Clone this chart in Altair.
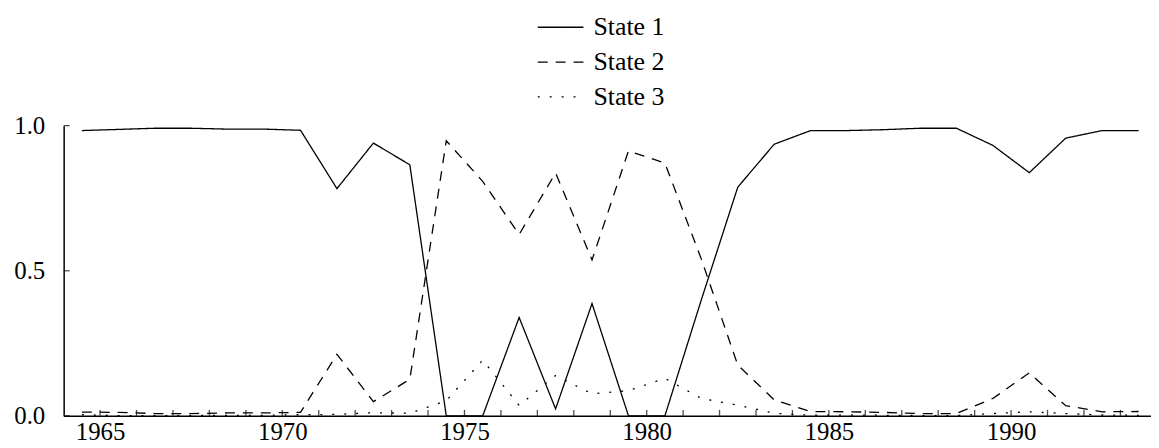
import altair as alt
import pandas as pd

years = [1964.5, 1965.5, 1966.5, 1967.5, 1968.5, 1969.5, 1970.5, 1971.5, 1972.5, 1973.5,
         1974.5, 1975.5, 1976.5, 1977.5, 1978.5, 1979.5, 1980.5, 1981.5, 1982.5, 1983.5,
         1984.5, 1985.5, 1986.5, 1987.5, 1988.5, 1989.5, 1990.5, 1991.5, 1992.5, 1993.5]
state1 = [0.983, 0.987, 0.991, 0.991, 0.988, 0.988, 0.984, 0.783, 0.940, 0.865,
          0.000, 0.000, 0.339, 0.024, 0.387, 0.000, 0.000, 0.400, 0.788, 0.936,
          0.983, 0.983, 0.986, 0.991, 0.991, 0.932, 0.838, 0.957, 0.983, 0.983]
state2 = [0.013, 0.012, 0.008, 0.008, 0.010, 0.010, 0.012, 0.212, 0.049, 0.126,
          0.948, 0.808, 0.625, 0.837, 0.537, 0.913, 0.871, 0.540, 0.175, 0.055,
          0.015, 0.014, 0.012, 0.008, 0.008, 0.060, 0.148, 0.035, 0.014, 0.015]
state3 = [0.004, 0.001, 0.001, 0.001, 0.002, 0.002, 0.004, 0.005, 0.011, 0.009,
          0.052, 0.192, 0.036, 0.139, 0.076, 0.087, 0.129, 0.060, 0.037, 0.009,
          0.002, 0.003, 0.002, 0.001, 0.001, 0.008, 0.014, 0.008, 0.003, 0.002]
states = ["State 1", "State 2", "State 3"]
tick_years = [1965, 1966, 1967, 1968, 1969, 1970, 1971, 1972, 1973, 1974, 1975, 1976,
              1977, 1978, 1979, 1980, 1981, 1982, 1983, 1984, 1985, 1986, 1987, 1988,
              1989, 1990, 1991, 1992, 1993]
x_labels = [1965, 1970, 1975, 1980, 1985, 1990]
y_labels = [0.0, 0.5, 1.0]

rows = []
for name, vals in zip(states, [state1, state2, state3]):
    for yr, v in zip(years, vals):
        rows.append({"year": yr, "value": v, "state": name})
df = pd.DataFrame(rows)

FONT = "Liberation Serif"
FS = 25
xscale = alt.Scale(domain=[1964, 1993.84], nice=False, zero=False)
yscale = alt.Scale(domain=[0, 1], nice=False)

xaxis = alt.Axis(values=x_labels, format="d", title=None, grid=False,
                 ticks=False, tickSize=0, labelPadding=4,
                 domainColor="black", domainWidth=1.5,
                 labelFont=FONT, labelFontSize=FS, labelColor="black")
yaxis = alt.Axis(values=y_labels, format=".1f", title=None, grid=False,
                 ticks=False, tickSize=0, labelPadding=19,
                 domainColor="black", domainWidth=1.5,
                 labelFont=FONT, labelFontSize=FS, labelColor="black")

lines = alt.Chart(df).mark_line(strokeWidth=1.3, color="black").encode(
    x=alt.X("year:Q", scale=xscale, axis=xaxis),
    y=alt.Y("value:Q", scale=yscale, axis=yaxis),
    strokeDash=alt.StrokeDash(
        "state:N",
        scale=alt.Scale(domain=states, range=[[1, 0], [10, 8], [2, 10]]),
        legend=alt.Legend(title=None, orient="none", legendX=487, legendY=-112,
                          direction="vertical", symbolType="M-4,0H4", symbolSize=132,
                          symbolStrokeWidth=1.3, symbolStrokeColor="black",
                          labelFont=FONT, labelFontSize=26, labelColor="black",
                          labelOffset=20, rowPadding=9)),
    detail="state:N",
)

xt = alt.Chart(pd.DataFrame({"year": tick_years, "value": [0.0] * len(tick_years)})).mark_tick(
    orient="vertical", size=6, thickness=1.3, yOffset=-3, color="black"
).encode(x=alt.X("year:Q", scale=xscale, axis=xaxis), y=alt.Y("value:Q", scale=yscale, axis=yaxis))

yt = alt.Chart(pd.DataFrame({"year": [1964.0] * len(y_labels), "value": y_labels})).mark_tick(
    orient="horizontal", size=6, thickness=1.3, xOffset=3, color="black"
).encode(x=alt.X("year:Q", scale=xscale, axis=xaxis), y=alt.Y("value:Q", scale=yscale, axis=yaxis))

chart = alt.layer(lines, xt, yt).properties(
    width=1094, height=292,
    padding={"left": 5, "top": 5, "right": 0, "bottom": 5},
).configure(background="white").configure_view(stroke=None)

chart.save("out.html", embed_options={"renderer": "svg", "actions": False})
